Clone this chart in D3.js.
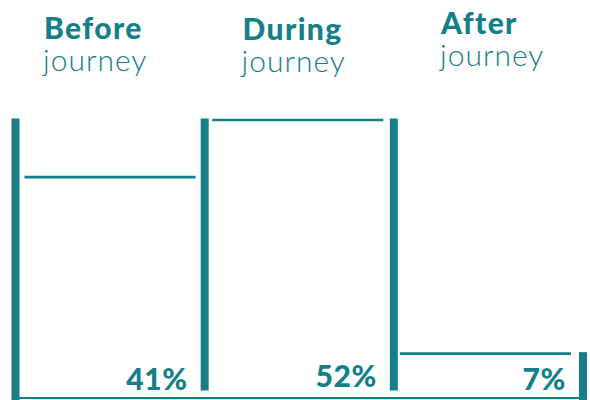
<!DOCTYPE html>
<html>
<head>
<meta charset="utf-8">
<script src="https://cdn.jsdelivr.net/npm/d3@7"></script>
<style>
  html, body { margin: 0; padding: 0; background: #ffffff; }
  svg { display: block; }
</style>
</head>
<body>
<svg id="chart" width="590" height="400"></svg>
<script>
// Share of respondents by stage of the journey
const stages = ["Before", "During", "After"];
const stageSubtitle = ["journey", "journey", "journey"];
const shares = [41, 52, 7];
const shareLabels = ["41%", "52%", "7%"];

const teal = "#147e89";
const svg = d3.select("#chart");

// one open box per stage, separated by thick posts
const x = d3.scaleBand().domain(stages).range([15.5, 583]).paddingInner(0).paddingOuter(0);
const y = d3.scaleLinear().domain([0, 52]).range([390, 120]);
const labelX = d3.scalePoint().domain(stages).range([44, 441]);

const postW = 8;
const bw = x.bandwidth();

// posts: one at every box edge
const edges = d3.range(stages.length + 1).map(i => {
  const left = i > 0 ? shares[i - 1] : null;
  const right = i < stages.length ? shares[i] : null;
  let top;
  if (i === 0) top = d3.max(shares);
  else if (i === stages.length) top = left;
  else top = Math.max(left, right);
  const outer = i === 0 || i === stages.length;
  return { x: x.range()[0] + i * bw, top, outer };
});

// baseline running along the bottom
svg.append("line")
  .attr("x1", x.range()[0]).attr("x2", x.range()[1])
  .attr("y1", 398).attr("y2", 398)
  .attr("stroke", teal).attr("stroke-width", 1.8);

svg.selectAll("rect.post")
  .data(edges)
  .join("rect")
  .attr("class", "post")
  .attr("x", d => d.x - postW / 2)
  .attr("width", postW)
  .attr("y", d => y(d.top) - 1.5)
  .attr("height", d => (d.outer ? 400 : y(0) + 0.5) - (y(d.top) - 1.5))
  .attr("fill", teal);

// level line showing each stage's share
svg.selectAll("line.level")
  .data(stages)
  .join("line")
  .attr("class", "level")
  .attr("x1", (d, i) => x(d) + postW / 2 + 5 - i * 1.5)
  .attr("x2", (d, i) => x(d) + bw - postW / 2 - 5 - i * 1.5)
  .attr("y1", (d, i) => y(shares[i]))
  .attr("y2", (d, i) => y(shares[i]))
  .attr("stroke", teal)
  .attr("stroke-width", 2.6);

// percentage labels, bottom right of each box
svg.selectAll("text.pct")
  .data(stages)
  .join("text")
  .attr("class", "pct")
  .attr("x", d => x(d) + bw - postW / 2 - 13)
  .attr("y", (d, i) => i === 1 ? 387 : 390)
  .attr("text-anchor", "end")
  .attr("font-family", "Lato, sans-serif")
  .attr("font-weight", 900)
  .attr("font-size", 30)
  .attr("letter-spacing", 0.6)
  .attr("fill", teal)
  .text((d, i) => shareLabels[i]);

// stage headings
const heads = svg.selectAll("g.head")
  .data(stages)
  .join("g")
  .attr("class", "head")
  .attr("transform", (d, i) => `translate(${labelX(d)},${i === 2 ? -5 : (i === 1 ? 1 : 0)})`);

heads.append("text")
  .attr("x", 0).attr("y", 38.5)
  .attr("font-family", "Lato, sans-serif")
  .attr("font-weight", 900)
  .attr("font-size", 30)
  .attr("letter-spacing", 1.4)
  .attr("fill", teal)
  .text(d => d);

heads.append("text")
  .attr("x", -1).attr("y", 71)
  .attr("font-family", "Lato, sans-serif")
  .attr("font-weight", 300)
  .attr("font-size", 30)
  .attr("letter-spacing", 1)
  .attr("fill", teal)
  .text((d, i) => stageSubtitle[i]);
</script>
</body>
</html>
